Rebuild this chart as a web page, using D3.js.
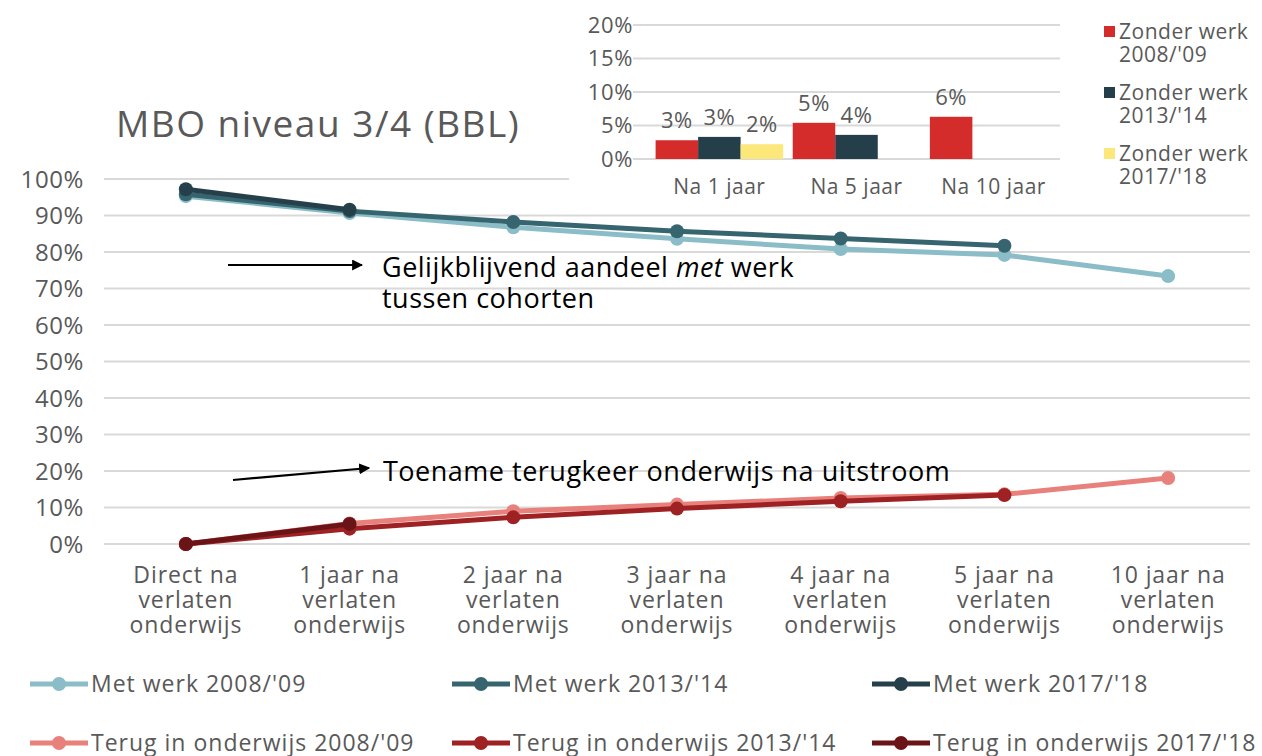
<!DOCTYPE html>
<html>
<head>
<meta charset="utf-8">
<script src="https://cdn.jsdelivr.net/npm/d3@7"></script>
<style>
body { margin: 0; background: #fff; }
svg { font-family: "Open Sans", Lato, sans-serif; }
</style>
</head>
<body>
<div id="chart"></div>
<script>
// main chart data
var categories = ["Direct na|verlaten|onderwijs", "1 jaar na|verlaten|onderwijs", "2 jaar na|verlaten|onderwijs",
  "3 jaar na|verlaten|onderwijs", "4 jaar na|verlaten|onderwijs", "5 jaar na|verlaten|onderwijs", "10 jaar na|verlaten|onderwijs"];
var yTicks = [0, 10, 20, 30, 40, 50, 60, 70, 80, 90, 100];

var metWerk0809 = [95.3, 90.7, 86.8, 83.6, 80.8, 79.2, 73.4];
var metWerk1314 = [95.8, 91.2, 88.2, 85.7, 83.7, 81.7];
var metWerk1718 = [97.2, 91.6];
var terug0809 = [0, 5.6, 9.0, 10.8, 12.6, 13.6, 18.1];
var terug1314 = [0, 4.2, 7.3, 9.7, 11.7, 13.4];
var terug1718 = [0, 5.5];

var seriesNames = ["Met werk 2008/'09", "Met werk 2013/'14", "Met werk 2017/'18",
  "Terug in onderwijs 2008/'09", "Terug in onderwijs 2013/'14", "Terug in onderwijs 2017/'18"];

// inset bar chart data
var barCats = ["Na 1 jaar", "Na 5 jaar", "Na 10 jaar"];
var barTicks = [0, 5, 10, 15, 20];
var zonder0809 = [2.8, 5.4, 6.3];
var zonder1314 = [3.3, 3.6, null];
var zonder1718 = [2.2, null, null];
var barLabels0809 = ["3%", "5%", "6%"];
var barLabels1314 = ["3%", "4%", ""];
var barLabels1718 = ["2%", "", ""];
var barSeriesNames = ["Zonder werk|2008/'09", "Zonder werk|2013/'14", "Zonder werk|2017/'18"];

var grey = "#595959";
var lineColors = ["#8bbdc8", "#36656f", "#25404a", "#e8807c", "#9e2124", "#6b1417"];
var barColors = ["#d42b2b", "#253f4a", "#fbe77a"];

var svg = d3.select("#chart").append("svg")
  .attr("width", 1262)
  .attr("height", 756);

var x = d3.scaleBand().domain(d3.range(categories.length)).range([104, 1250]);
var y = d3.scaleLinear().domain([0, 100]).range([544, 179]);

// gridlines
svg.append("g").selectAll("line")
  .data(yTicks)
  .enter().append("line")
  .attr("x1", 104).attr("x2", 1250)
  .attr("y1", d => y(d)).attr("y2", d => y(d))
  .attr("stroke", "#d9d9d9").attr("stroke-width", 2);

// y axis labels
svg.append("g").selectAll("text")
  .data(yTicks)
  .enter().append("text")
  .attr("x", 84).attr("y", d => y(d))
  .attr("dy", "0.36em")
  .attr("text-anchor", "end")
  .attr("font-size", "24px")
  .attr("letter-spacing", "0.6px")
  .attr("fill", grey)
  .text(d => d + "%");

// x axis labels
var xl = svg.append("g").selectAll("text")
  .data(categories)
  .enter().append("text")
  .attr("text-anchor", "middle")
  .attr("font-size", "23px")
  .attr("letter-spacing", "0.9px")
  .attr("fill", grey)
  .attr("transform", (d, i) => "translate(" + (x(i) + x.bandwidth() / 2) + ",583)");
xl.each(function(d) {
  var t = d3.select(this);
  d.split("|").forEach(function(part, k) {
    t.append("tspan").attr("x", 0).attr("y", k * 25).text(part);
  });
});

// title
svg.append("text")
  .attr("x", 116).attr("y", 137)
  .attr("font-size", "37px")
  .attr("letter-spacing", "1.5px")
  .attr("fill", grey)
  .text("MBO niveau 3/4 (BBL)");

var allSeries = [metWerk0809, metWerk1314, metWerk1718, terug0809, terug1314, terug1718];
var line = d3.line()
  .x((d, i) => x(i) + x.bandwidth() / 2)
  .y(d => y(d));

allSeries.forEach(function(vals, s) {
  var g = svg.append("g");
  g.append("path")
    .datum(vals)
    .attr("d", line)
    .attr("fill", "none")
    .attr("stroke", lineColors[s])
    .attr("stroke-width", 5);
  g.selectAll("circle")
    .data(vals)
    .enter().append("circle")
    .attr("cx", (d, i) => x(i) + x.bandwidth() / 2)
    .attr("cy", d => y(d))
    .attr("r", 7)
    .attr("fill", lineColors[s]);
});

// arrows + annotations
var defs = svg.append("defs");
defs.append("marker")
  .attr("id", "arrow")
  .attr("viewBox", "0 0 10 10")
  .attr("refX", 9).attr("refY", 5)
  .attr("markerWidth", 5).attr("markerHeight", 5)
  .attr("orient", "auto")
  .append("path").attr("d", "M0,0L10,5L0,10z").attr("fill", "#000");

svg.append("line")
  .attr("x1", 228).attr("y1", 265).attr("x2", 362).attr("y2", 265)
  .attr("stroke", "#000").attr("stroke-width", 2.2)
  .attr("marker-end", "url(#arrow)");
svg.append("line")
  .attr("x1", 233).attr("y1", 480).attr("x2", 369).attr("y2", 468)
  .attr("stroke", "#000").attr("stroke-width", 2.2)
  .attr("marker-end", "url(#arrow)");

var ann1 = svg.append("text")
  .attr("x", 382).attr("y", 277)
  .attr("font-size", "27px")
  .attr("letter-spacing", "0.5px")
  .attr("fill", "#000");
ann1.append("tspan").text("Gelijkblijvend aandeel ");
ann1.append("tspan").attr("font-style", "italic").text("met");
ann1.append("tspan").text(" werk");
svg.append("text")
  .attr("x", 382).attr("y", 308)
  .attr("font-size", "27px")
  .attr("letter-spacing", "0.5px")
  .attr("fill", "#000")
  .text("tussen cohorten");
svg.append("text")
  .attr("x", 383).attr("y", 481)
  .attr("font-size", "27px")
  .attr("letter-spacing", "0.5px")
  .attr("fill", "#000")
  .text("Toename terugkeer onderwijs na uitstroom");

// bottom legend
var legPos = [[30, 684], [452, 684], [872, 684], [30, 743], [452, 743], [872, 743]];
seriesNames.forEach(function(name, s) {
  var g = svg.append("g").attr("transform", "translate(" + legPos[s][0] + "," + legPos[s][1] + ")");
  g.append("line").attr("x1", 0).attr("x2", 58).attr("y1", 0).attr("y2", 0)
    .attr("stroke", lineColors[s]).attr("stroke-width", 5);
  g.append("circle").attr("cx", 29).attr("cy", 0).attr("r", 7).attr("fill", lineColors[s]);
  g.append("text").attr("x", 61).attr("y", 0).attr("dy", "0.36em")
    .attr("font-size", "23px")
    .attr("letter-spacing", "1px")
    .attr("fill", grey).text(name);
});

// inset bar chart
var inset = svg.append("g");
inset.append("rect")
  .attr("x", 569).attr("y", 0).attr("width", 693).attr("height", 201)
  .attr("fill", "#fff");

var bx = d3.scaleBand().domain(barCats).range([646, 1067]).paddingInner(0.07).paddingOuter(0.07);
var bxs = d3.scaleBand().domain([0, 1, 2]).range([0, bx.bandwidth()]);
var by = d3.scaleLinear().domain([0, 20]).range([159, 25]);

inset.append("g").selectAll("line")
  .data(barTicks)
  .enter().append("line")
  .attr("x1", 633).attr("x2", 1060)
  .attr("y1", d => by(d)).attr("y2", d => by(d))
  .attr("stroke", "#d9d9d9").attr("stroke-width", 2);

inset.append("g").selectAll("text")
  .data(barTicks)
  .enter().append("text")
  .attr("x", 633).attr("y", d => by(d))
  .attr("dy", "0.36em")
  .attr("text-anchor", "end")
  .attr("font-size", "22px")
  .attr("letter-spacing", "0.6px")
  .attr("fill", grey)
  .text(d => d + "%");

inset.append("g").selectAll("text")
  .data(barCats)
  .enter().append("text")
  .attr("x", d => bx(d) + bx.bandwidth() / 2)
  .attr("y", 186)
  .attr("dy", "0.36em")
  .attr("text-anchor", "middle")
  .attr("font-size", "21px")
  .attr("letter-spacing", "0.5px")
  .attr("fill", grey)
  .text(d => d);

var barSeries = [zonder0809, zonder1314, zonder1718];
var barLabels = [barLabels0809, barLabels1314, barLabels1718];
barSeries.forEach(function(vals, s) {
  var g = inset.append("g");
  var data = vals.map((v, i) => ({cat: barCats[i], v: v, label: barLabels[s][i]})).filter(d => d.v != null);
  g.selectAll("rect")
    .data(data)
    .enter().append("rect")
    .attr("x", d => bx(d.cat) + bxs(s))
    .attr("width", bxs.bandwidth())
    .attr("y", d => by(d.v))
    .attr("height", d => by(0) - by(d.v))
    .attr("fill", barColors[s]);
  g.selectAll("text")
    .data(data)
    .enter().append("text")
    .attr("x", d => bx(d.cat) + bxs(s) + bxs.bandwidth() / 2)
    .attr("y", d => by(d.v) - 12)
    .attr("text-anchor", "middle")
    .attr("font-size", "22px")
    .attr("letter-spacing", "0.5px")
    .attr("fill", grey)
    .text(d => d.label);
});

// inset legend
barSeriesNames.forEach(function(name, s) {
  var g = inset.append("g").attr("transform", "translate(1104," + (26 + s * 61) + ")");
  g.append("rect").attr("x", 0).attr("y", 0).attr("width", 11).attr("height", 11).attr("fill", barColors[s]);
  name.split("|").forEach(function(part, k) {
    g.append("text").attr("x", 15).attr("y", 13 + k * 23)
      .attr("font-size", "21px")
      .attr("letter-spacing", "0.5px")
      .attr("fill", grey).text(part);
  });
});
</script>
</body>
</html>
